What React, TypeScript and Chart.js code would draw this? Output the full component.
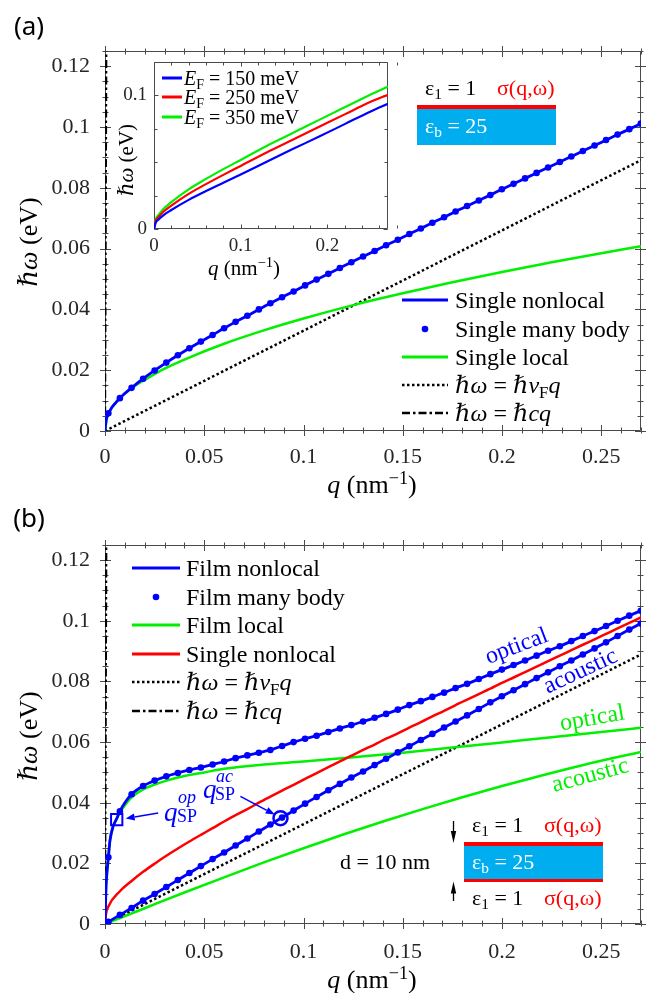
import React, { useEffect, useRef } from 'react';
import { Chart, registerables } from 'chart.js';
Chart.register(...registerables);

// ---------------- data ----------------
const X_TICKS = [0, 0.05, 0.1, 0.15, 0.2, 0.25];
const X_TICK_LABELS = ['0', '0.05', '0.1', '0.15', '0.2', '0.25'];
const Y_TICKS = [0, 0.02, 0.04, 0.06, 0.08, 0.1, 0.12];
const Y_TICK_LABELS = ['0', '0.02', '0.04', '0.06', '0.08', '0.1', '0.12'];
const INSET_X_TICKS = [0, 0.1, 0.2];
const INSET_X_LABELS = ['0', '0.1', '0.2'];
const INSET_Y_TICKS = [0, 0.1];
const INSET_Y_LABELS = ['0', '0.1'];

// q grid of the many-body points (nm^-1)
const Q_GRID = [0.0017, 0.0075, 0.0134, 0.0192, 0.0250, 0.0309, 0.0367, 0.0425, 0.0483, 0.0542, 0.0600, 0.0658, 0.0717, 0.0775, 0.0833, 0.0892, 0.0950, 0.1008, 0.1066, 0.1125, 0.1183, 0.1241, 0.1300, 0.1358, 0.1416, 0.1475, 0.1533, 0.1591, 0.1649, 0.1708, 0.1766, 0.1824, 0.1883, 0.1941, 0.1999, 0.2058, 0.2116, 0.2174, 0.2232, 0.2291, 0.2349, 0.2407, 0.2466, 0.2524, 0.2582, 0.2641, 0.2699];

// (a) single sheet
const SINGLE_NONLOCAL = [0.0058, 0.0108, 0.0142, 0.0172, 0.0199, 0.0225, 0.0249, 0.0272, 0.0294, 0.0316, 0.0338, 0.0359, 0.0379, 0.0400, 0.0420, 0.0440, 0.0459, 0.0479, 0.0498, 0.0517, 0.0536, 0.0555, 0.0574, 0.0592, 0.0611, 0.0629, 0.0648, 0.0666, 0.0685, 0.0703, 0.0722, 0.0740, 0.0758, 0.0776, 0.0795, 0.0813, 0.0831, 0.0849, 0.0867, 0.0885, 0.0903, 0.0921, 0.0939, 0.0957, 0.0975, 0.0993, 0.1011];
const SINGLE_START_Q = [0, 0.0005];
const SINGLE_START_W = [0, 0.0033];
const SINGLE_LOCAL_Q = [0, 0.001, 0.003, 0.006, 0.01, 0.015, 0.02, 0.03, 0.04, 0.06, 0.08, 0.1, 0.125, 0.15, 0.175, 0.2, 0.225, 0.25, 0.27];
const SINGLE_LOCAL_W = [0, 0.0042, 0.0072, 0.0098, 0.0123, 0.0148, 0.0168, 0.0205, 0.0235, 0.0287, 0.0331, 0.0370, 0.0414, 0.0453, 0.0489, 0.0523, 0.0555, 0.0585, 0.0608];
const VF_Q = [0, 0.27];
const VF_W = [0, 0.0891];
const C_Q = [0, 0.00064];
const C_W = [0, 0.125];

// inset
const INSET_Q = [0, 0.002, 0.005, 0.01, 0.02, 0.04, 0.06, 0.08, 0.1, 0.13, 0.16, 0.19, 0.22, 0.25, 0.27];
const EF150 = [0, 0.0048, 0.0070, 0.0099, 0.0142, 0.0218, 0.0284, 0.0346, 0.0408, 0.0504, 0.0598, 0.0690, 0.0785, 0.0880, 0.0938];
const EF250 = [0, 0.0062, 0.0088, 0.0124, 0.0175, 0.0263, 0.0336, 0.0405, 0.0472, 0.0573, 0.0668, 0.0763, 0.0858, 0.0952, 0.1005];
const EF350 = [0, 0.0073, 0.0103, 0.0144, 0.0201, 0.0297, 0.0375, 0.0448, 0.0517, 0.0622, 0.0718, 0.0815, 0.0911, 0.1006, 0.1067];

// (b) film
const FILM_OPTICAL = [0.0220, 0.0372, 0.0428, 0.0455, 0.0473, 0.0487, 0.0498, 0.0508, 0.0516, 0.0526, 0.0536, 0.0547, 0.0556, 0.0565, 0.0574, 0.0587, 0.0600, 0.0611, 0.0621, 0.0633, 0.0645, 0.0656, 0.0668, 0.0680, 0.0693, 0.0707, 0.0722, 0.0735, 0.0749, 0.0763, 0.0778, 0.0792, 0.0808, 0.0824, 0.0839, 0.0854, 0.0869, 0.0885, 0.0901, 0.0916, 0.0933, 0.0950, 0.0966, 0.0983, 0.1000, 0.1017, 0.1033];
const FILM_OPTICAL_START_Q = [0, 0.0005, 0.001, 0.0025, 0.004, 0.0059, 0.01];
const FILM_OPTICAL_START_W = [0, 0.012, 0.017, 0.0275, 0.032, 0.0347, 0.0400];
const FILM_ACOUSTIC = [0.0007, 0.0030, 0.0053, 0.0077, 0.0099, 0.0122, 0.0145, 0.0168, 0.0191, 0.0214, 0.0236, 0.0259, 0.0282, 0.0305, 0.0328, 0.0351, 0.0374, 0.0397, 0.0419, 0.0441, 0.0462, 0.0483, 0.0503, 0.0524, 0.0545, 0.0566, 0.0586, 0.0607, 0.0627, 0.0648, 0.0668, 0.0688, 0.0709, 0.0731, 0.0751, 0.0771, 0.0791, 0.0811, 0.0830, 0.0850, 0.0869, 0.0889, 0.0909, 0.0929, 0.0950, 0.0971, 0.0991];
const LOCAL_OPT_Q = [0, 0.0005, 0.001, 0.0017, 0.0025, 0.004, 0.006, 0.008, 0.01, 0.0134, 0.0192, 0.025, 0.031, 0.04, 0.05, 0.06, 0.08, 0.1, 0.125, 0.15, 0.175, 0.2, 0.225, 0.25, 0.27];
const LOCAL_OPT_W = [0, 0.012, 0.017, 0.022, 0.0275, 0.032, 0.0350, 0.0372, 0.0392, 0.0418, 0.0444, 0.0460, 0.0473, 0.0488, 0.0500, 0.0512, 0.0526, 0.0536, 0.0550, 0.0565, 0.0582, 0.0599, 0.0616, 0.0633, 0.0647];
const LOCAL_AC_Q = [0, 0.02, 0.04, 0.06, 0.08, 0.1, 0.12, 0.14, 0.16, 0.18, 0.2, 0.22, 0.24, 0.26, 0.27];
const LOCAL_AC_W = [0, 0.0052, 0.0104, 0.0154, 0.0203, 0.0250, 0.0295, 0.0338, 0.0379, 0.0418, 0.0455, 0.0490, 0.0523, 0.0553, 0.0567];
const VF_B_W = [0, 0.0889];
const SP_OP = [0.0059, 0.0344];
const SP_AC = [0.0884, 0.0349];
// arrows (data coordinates): [q0, w0, q1, w1]
const ARROW_OP = [0.0268, 0.0366, 0.0104, 0.0348];
const ARROW_AC = [0.0682, 0.0421, 0.0855, 0.0361];

// ---------------- styling ----------------
const SERIF = '"Liberation Serif", "DejaVu Serif", serif';
const BLUE = '#0000ff';
const RED = '#ff0000';
const GREEN = '#00f000';
const CYAN = '#00aeef';
const AXIS = '#4a4a4a';
const TXT = '#262626';

const pts = (q: number[], w: number[]) => q.map((x, i) => ({ x, y: w[i] }));
const merge = (a: { x: number; y: number }[], b: { x: number; y: number }[]) =>
  [...a, ...b].filter((p, i, arr) => arr.findIndex((o) => Math.abs(o.x - p.x) < 1e-9) === i).sort((m, n) => m.x - n.x);

const line = (data: any[], color: string, width: number, order: number, dash: number[] = []) => ({
  data, showLine: true, borderColor: color, backgroundColor: color, borderWidth: width, borderDash: dash,
  pointRadius: 0, cubicInterpolationMode: 'monotone', fill: false, order,
});
const dots = (data: any[], color: string, r: number, order: number) => ({
  data, showLine: false, pointRadius: r, pointBackgroundColor: color, pointBorderWidth: 0, order,
});

type FrameCfg = { xMajor: number[]; yMajor: number[]; xStep: number; yStep: number; major: number; minor: number; both: boolean; fill?: string };
function framePlugin(cfg: FrameCfg) {
  return {
    id: 'frame',
    beforeDatasetsDraw(chart: any) {
      const { ctx, chartArea: a } = chart;
      const xs = chart.scales.x, ys = chart.scales.y;
      const L = Math.round(a.left) + 0.5, R = Math.round(a.right) - 0.5;
      const T = Math.round(a.top) + 0.5, B = Math.round(a.bottom) - 0.5;
      ctx.save();
      if (cfg.fill) { ctx.fillStyle = cfg.fill; ctx.fillRect(a.left, a.top, a.right - a.left, a.bottom - a.top); }
      ctx.strokeStyle = AXIS; ctx.lineWidth = 1;
      ctx.beginPath();
      ctx.rect(L, T, R - L, B - T);
      const tx = (v: number, len: number) => {
        const p = Math.round(xs.getPixelForValue(v)) + 0.5;
        ctx.moveTo(p, B - len); ctx.lineTo(p, cfg.both ? B + len : B);
        ctx.moveTo(p, T + len); ctx.lineTo(p, cfg.both ? T - len : T);
      };
      const ty = (v: number, len: number) => {
        const p = Math.round(ys.getPixelForValue(v)) + 0.5;
        ctx.moveTo(L + len, p); ctx.lineTo(cfg.both ? L - len : L, p);
        ctx.moveTo(R - len, p); ctx.lineTo(cfg.both ? R + len : R, p);
      };
      const nx = Math.round(xs.max / cfg.xStep);
      for (let k = 0; k <= nx; k++) tx(k * cfg.xStep, cfg.minor);
      const ny = Math.round(ys.max / cfg.yStep);
      for (let k = 0; k <= ny; k++) ty(k * cfg.yStep, cfg.minor);
      cfg.xMajor.forEach((v) => tx(v, cfg.major));
      cfg.yMajor.forEach((v) => ty(v, cfg.major));
      ctx.stroke();
      ctx.restore();
    },
  };
}

function arrowPlugin(arrows: number[][]) {
  return {
    id: 'arrows',
    afterDatasetsDraw(chart: any) {
      const { ctx } = chart;
      const xs = chart.scales.x, ys = chart.scales.y;
      ctx.save();
      ctx.strokeStyle = BLUE; ctx.fillStyle = BLUE; ctx.lineWidth = 1.6;
      arrows.forEach(([q0, w0, q1, w1]) => {
        const x0 = xs.getPixelForValue(q0), y0 = ys.getPixelForValue(w0);
        const x1 = xs.getPixelForValue(q1), y1 = ys.getPixelForValue(w1);
        const ang = Math.atan2(y1 - y0, x1 - x0);
        const hl = 9, hw = 3.5;
        const bx = x1 - hl * Math.cos(ang), by = y1 - hl * Math.sin(ang);
        ctx.beginPath(); ctx.moveTo(x0, y0); ctx.lineTo(bx, by); ctx.stroke();
        ctx.beginPath(); ctx.moveTo(x1, y1);
        ctx.lineTo(bx - hw * Math.sin(ang), by + hw * Math.cos(ang));
        ctx.lineTo(bx + hw * Math.sin(ang), by - hw * Math.cos(ang));
        ctx.closePath(); ctx.fill();
      });
      ctx.restore();
    },
  };
}

const noPad = (s: any) => { s.paddingLeft = 0; s.paddingRight = 0; s.paddingTop = 0; s.paddingBottom = 0; };

function scales(o: { xTicks: number[]; xLabels: string[]; yTicks: number[]; yLabels: string[]; yMax: number; font: number; xPad: number; yPad: number; yWidth: number; xHeight: number }) {
  const font = { family: SERIF, size: o.font };
  return {
    x: {
      type: 'linear', min: 0, max: 0.27,
      afterBuildTicks: (s: any) => { s.ticks = o.xTicks.map((v) => ({ value: v })); },
      afterFit: (s: any) => { s.height = o.xHeight; noPad(s); },
      grid: { display: false, drawTicks: false }, border: { display: false },
      ticks: { autoSkip: false, maxRotation: 0, padding: o.xPad, color: TXT, font, callback: (_v: any, i: number) => o.xLabels[i] },
    },
    y: {
      type: 'linear', min: 0, max: o.yMax,
      afterBuildTicks: (s: any) => { s.ticks = o.yTicks.map((v) => ({ value: v })); },
      afterFit: (s: any) => { s.width = o.yWidth; noPad(s); },
      grid: { display: false, drawTicks: false }, border: { display: false },
      ticks: { autoSkip: false, padding: o.yPad, color: TXT, font, callback: (_v: any, i: number) => o.yLabels[i] },
    },
  };
}

const baseOpts = (padding: any, sc: any) => ({
  responsive: false, animation: false, events: [],
  layout: { padding },
  plugins: { legend: { display: false }, tooltip: { enabled: false } },
  scales: sc,
});

function configTop() {
  return {
    type: 'scatter',
    data: {
      datasets: [
        dots(pts(Q_GRID, SINGLE_NONLOCAL), BLUE, 3.3, 1),
        line(merge(pts(SINGLE_START_Q, SINGLE_START_W), pts(Q_GRID, SINGLE_NONLOCAL)), BLUE, 2.8, 2),
        line(pts(SINGLE_LOCAL_Q, SINGLE_LOCAL_W), GREEN, 2.5, 3),
        line(pts(VF_Q, VF_W), '#000', 2.5, 4, [2.5, 2.5]),
        line(pts(C_Q, C_W), '#000', 2.2, 5, [8, 3, 2.5, 3]),
      ],
    },
    options: baseOpts({ top: 51, right: 10, left: 0, bottom: 0 },
      scales({ xTicks: X_TICKS, xLabels: X_TICK_LABELS, yTicks: Y_TICKS, yLabels: Y_TICK_LABELS, yMax: 0.125, font: 22, xPad: 13, yPad: 15, yWidth: 105, xHeight: 69 })),
    plugins: [framePlugin({ xMajor: X_TICKS, yMajor: Y_TICKS, xStep: 0.01, yStep: 0.005, major: 5.5, minor: 3, both: true })],
  };
}

function configInset() {
  return {
    type: 'scatter',
    data: {
      datasets: [
        line(pts(INSET_Q, EF150), BLUE, 2.2, 1),
        line(pts(INSET_Q, EF250), RED, 2.2, 1),
        line(pts(INSET_Q, EF350), GREEN, 2.2, 1),
      ],
    },
    options: baseOpts({ top: 7, right: 12, left: 0, bottom: 0 },
      scales({ xTicks: INSET_X_TICKS, xLabels: INSET_X_LABELS, yTicks: INSET_Y_TICKS, yLabels: INSET_Y_LABELS, yMax: 0.125, font: 19, xPad: 6, yPad: 7, yWidth: 54, xHeight: 56 })),
    plugins: [framePlugin({ xMajor: INSET_X_TICKS, yMajor: INSET_Y_TICKS, xStep: 0.02, yStep: 0.025, major: 4, minor: 3, both: false, fill: '#ffffff' })],
  };
}

function configBottom() {
  return {
    type: 'scatter',
    data: {
      datasets: [
        { data: pts([SP_OP[0]], [SP_OP[1]]), showLine: false, pointStyle: 'rect', pointRadius: 8, pointBorderColor: BLUE, pointBorderWidth: 2, pointBackgroundColor: 'rgba(0,0,0,0)', order: 0 },
        { data: pts([SP_AC[0]], [SP_AC[1]]), showLine: false, pointStyle: 'circle', pointRadius: 7, pointBorderColor: BLUE, pointBorderWidth: 2.5, pointBackgroundColor: 'rgba(0,0,0,0)', order: 0 },
        dots(pts(Q_GRID, FILM_OPTICAL), BLUE, 3.3, 1),
        dots(merge(pts([0], [0]), pts(Q_GRID, FILM_ACOUSTIC)), BLUE, 3.3, 1),
        line(merge(pts(FILM_OPTICAL_START_Q, FILM_OPTICAL_START_W), pts(Q_GRID, FILM_OPTICAL)), BLUE, 2.8, 2),
        line(merge(pts([0], [0]), pts(Q_GRID, FILM_ACOUSTIC)), BLUE, 2.8, 2),
        line(merge(pts(SINGLE_START_Q, SINGLE_START_W), pts(Q_GRID, SINGLE_NONLOCAL)), RED, 2.5, 3),
        line(pts(LOCAL_OPT_Q, LOCAL_OPT_W), GREEN, 2.5, 4),
        line(pts(LOCAL_AC_Q, LOCAL_AC_W), GREEN, 2.5, 4),
        line(pts(VF_Q, VF_B_W), '#000', 2.5, 5, [2.5, 2.5]),
        line(pts(C_Q, C_W), '#000', 2.2, 6, [8, 3, 2.5, 3]),
      ],
    },
    options: baseOpts({ top: 45, right: 10, left: 0, bottom: 0 },
      scales({ xTicks: X_TICKS, xLabels: X_TICK_LABELS, yTicks: Y_TICKS, yLabels: Y_TICK_LABELS, yMax: 0.125, font: 22, xPad: 15, yPad: 15, yWidth: 105, xHeight: 69 })),
    plugins: [
      framePlugin({ xMajor: X_TICKS, yMajor: Y_TICKS, xStep: 0.01, yStep: 0.005, major: 5.5, minor: 3, both: true }),
      arrowPlugin([ARROW_OP, ARROW_AC]),
    ],
  };
}

// ---------------- components ----------------
function ChartCanvas({ left, top, width, height, make }: any) {
  const ref = useRef<HTMLCanvasElement>(null);
  useEffect(() => {
    const c = new Chart(ref.current as HTMLCanvasElement, make() as any);
    return () => c.destroy();
  }, []);
  return <canvas ref={ref} width={width} height={height} style={{ position: 'absolute', left, top, width, height }} />;
}

const Tx = ({ x, y, size = 22, color = '#000', align = 'left', rot = 0, family = SERIF, italic = false, children }: any) => (
  <div style={{
    position: 'absolute', left: x, top: y, fontFamily: family, fontSize: size, color, lineHeight: 1,
    whiteSpace: 'nowrap', fontStyle: italic ? 'italic' : 'normal',
    transform: `translate(${align === 'left' ? '0' : align === 'right' ? '-100%' : '-50%'}, -50%) rotate(${rot}deg)`,
  }}>{children}</div>
);
const Sub = ({ children, s = 0.7 }: any) => <span style={{ fontSize: `${s}em`, verticalAlign: '-0.28em', lineHeight: 0, fontStyle: 'normal' }}>{children}</span>;
const Sup = ({ children, s = 0.7 }: any) => <span style={{ fontSize: `${s}em`, verticalAlign: '0.5em', lineHeight: 0, fontStyle: 'normal' }}>{children}</span>;

const Sample = ({ x0, x1, y, color = '#000', width = 3, dash, dot }: any) => (
  <svg style={{ position: 'absolute', left: x0, top: y - 6, overflow: 'visible' }} width={x1 - x0} height={12}>
    {dot ? <circle cx={(x1 - x0) / 2} cy={6} r={3.3} fill={color} />
      : <line x1={0} y1={6} x2={x1 - x0} y2={6} stroke={color} strokeWidth={width} strokeDasharray={dash} />}
  </svg>
);

const VF = () => <><i>ℏω</i> = <i>ℏv</i><Sub>F</Sub><i>q</i></>;
const HC = () => <><i>ℏω</i> = <i>ℏcq</i></>;
const QT = () => <><i>q</i> (nm<Sup>−1</Sup>)</>;
const WT = () => <><i>ℏω</i> (eV)</>;

function Legend({ rows, x0, x1, tx, size }: any) {
  return <>{rows.map((r: any, i: number) => (
    <React.Fragment key={i}>
      <Sample x0={x0} x1={x1} y={r.y} color={r.color} width={r.width} dash={r.dash} dot={r.dot} />
      <Tx x={tx} y={r.y} size={size}>{r.label}</Tx>
    </React.Fragment>
  ))}</>;
}

export default function App() {
  const DOTTED = '2.5 2.5';
  const DASHDOT = '8 3 2.5 3';
  return (
    <div style={{ position: 'absolute', left: 0, top: 0, width: 651, height: 993, overflow: 'hidden', background: '#fff' }}>
      <ChartCanvas left={0} top={0} width={651} height={500} make={configTop} />
      <ChartCanvas left={100} top={55} width={300} height={230} make={configInset} />
      <ChartCanvas left={0} top={500} width={651} height={493} make={configBottom} />

      {/* panel labels */}
      <Tx x={29} y={25} size={26} align="center" family='"Noto Sans", "DejaVu Sans", sans-serif'>(a)</Tx>
      <Tx x={29} y={517} size={26} align="center" family='"Noto Sans", "DejaVu Sans", sans-serif'>(b)</Tx>

      {/* axis titles */}
      <Tx x={372} y={485} size={26} align="center"><QT /></Tx>
      <Tx x={372} y={980} size={26} align="center"><QT /></Tx>
      <Tx x={29} y={242} size={26} align="center" rot={-90}><WT /></Tx>
      <Tx x={29} y={736} size={26} align="center" rot={-90}><WT /></Tx>
      <Tx x={244} y={268} size={21} align="center"><QT /></Tx>
      <Tx x={126} y={160} size={21} align="center" rot={-90}><WT /></Tx>

      {/* inset legend */}
      <Legend x0={162} x1={182} tx={184} size={20} rows={[
        { y: 78, color: BLUE, width: 3, label: <><i>E</i><Sub>F</Sub> = 150 meV</> },
        { y: 97, color: RED, width: 3, label: <><i>E</i><Sub>F</Sub> = 250 meV</> },
        { y: 117, color: GREEN, width: 3, label: <><i>E</i><Sub>F</Sub> = 350 meV</> },
      ]} />

      {/* top legend */}
      <Legend x0={402} x1={448} tx={455} size={24} rows={[
        { y: 300, color: BLUE, width: 3, label: 'Single nonlocal' },
        { y: 328.5, color: BLUE, dot: true, label: 'Single many body' },
        { y: 357, color: GREEN, width: 3, label: 'Single local' },
        { y: 385, color: '#000', width: 2.5, dash: DOTTED, label: <VF /> },
        { y: 413, color: '#000', width: 2.5, dash: DASHDOT, label: <HC /> },
      ]} />

      {/* bottom legend */}
      <Legend x0={132} x1={180} tx={186} size={24} rows={[
        { y: 568, color: BLUE, width: 3, label: 'Film nonlocal' },
        { y: 597, color: BLUE, dot: true, label: 'Film many body' },
        { y: 625, color: GREEN, width: 3, label: 'Film local' },
        { y: 654, color: RED, width: 3, label: 'Single nonlocal' },
        { y: 682, color: '#000', width: 2.5, dash: DOTTED, label: <VF /> },
        { y: 711, color: '#000', width: 2.5, dash: DASHDOT, label: <HC /> },
      ]} />

      {/* (a) structure sketch */}
      <div style={{ position: 'absolute', left: 417, top: 105, width: 139, height: 3.5, background: RED }} />
      <div style={{ position: 'absolute', left: 417, top: 108.5, width: 139, height: 36, background: CYAN }} />
      <Tx x={425} y={88} size={22}>ε<Sub>1</Sub> = 1</Tx>
      <Tx x={497} y={88} size={22} color={RED}>σ(q,ω)</Tx>
      <Tx x={425} y={126} size={22} color="#fff">ε<Sub>b</Sub> = 25</Tx>

      {/* (b) structure sketch */}
      <div style={{ position: 'absolute', left: 464, top: 842, width: 139, height: 3.5, background: RED }} />
      <div style={{ position: 'absolute', left: 464, top: 845.5, width: 139, height: 33, background: CYAN }} />
      <div style={{ position: 'absolute', left: 464, top: 878.5, width: 139, height: 3.5, background: RED }} />
      <Tx x={472} y={825} size={22}>ε<Sub>1</Sub> = 1</Tx>
      <Tx x={544} y={825} size={22} color={RED}>σ(q,ω)</Tx>
      <Tx x={472} y={862} size={22} color="#fff">ε<Sub>b</Sub> = 25</Tx>
      <Tx x={472} y={898} size={22}>ε<Sub>1</Sub> = 1</Tx>
      <Tx x={544} y={898} size={22} color={RED}>σ(q,ω)</Tx>
      <Tx x={340} y={862} size={22}>d = 10 nm</Tx>
      <svg style={{ position: 'absolute', left: 0, top: 0 }} width={651} height={993}>
        <line x1={453.5} y1={821} x2={453.5} y2={832} stroke="#000" strokeWidth={1.3} />
        <polygon points="453.5,843 450.8,831 456.2,831" fill="#000" />
        <line x1={453.5} y1={901} x2={453.5} y2={893} stroke="#000" strokeWidth={1.3} />
        <polygon points="453.5,881.5 450.8,893.5 456.2,893.5" fill="#000" />
      </svg>

      {/* (b) branch labels */}
      <Tx x={516} y={645} size={24} align="center" rot={-21} color={BLUE}>optical</Tx>
      <Tx x={580} y={670} size={24} align="center" rot={-25} color={BLUE}>acoustic</Tx>
      <Tx x={592} y={717} size={24} align="center" rot={-10} color={GREEN}>optical</Tx>
      <Tx x={590} y={774} size={24} align="center" rot={-15} color={GREEN}>acoustic</Tx>

      {/* q_SP labels */}
      <Tx x={164} y={812} size={27} color={BLUE} italic>q</Tx>
      <Tx x={178} y={797} size={18} color={BLUE} italic>op</Tx>
      <Tx x={177} y={816} size={18} color={BLUE}>SP</Tx>
      <Tx x={203} y={789} size={27} color={BLUE} italic>q</Tx>
      <Tx x={216} y={776} size={18} color={BLUE} italic>ac</Tx>
      <Tx x={215} y={794} size={18} color={BLUE}>SP</Tx>
    </div>
  );
}
